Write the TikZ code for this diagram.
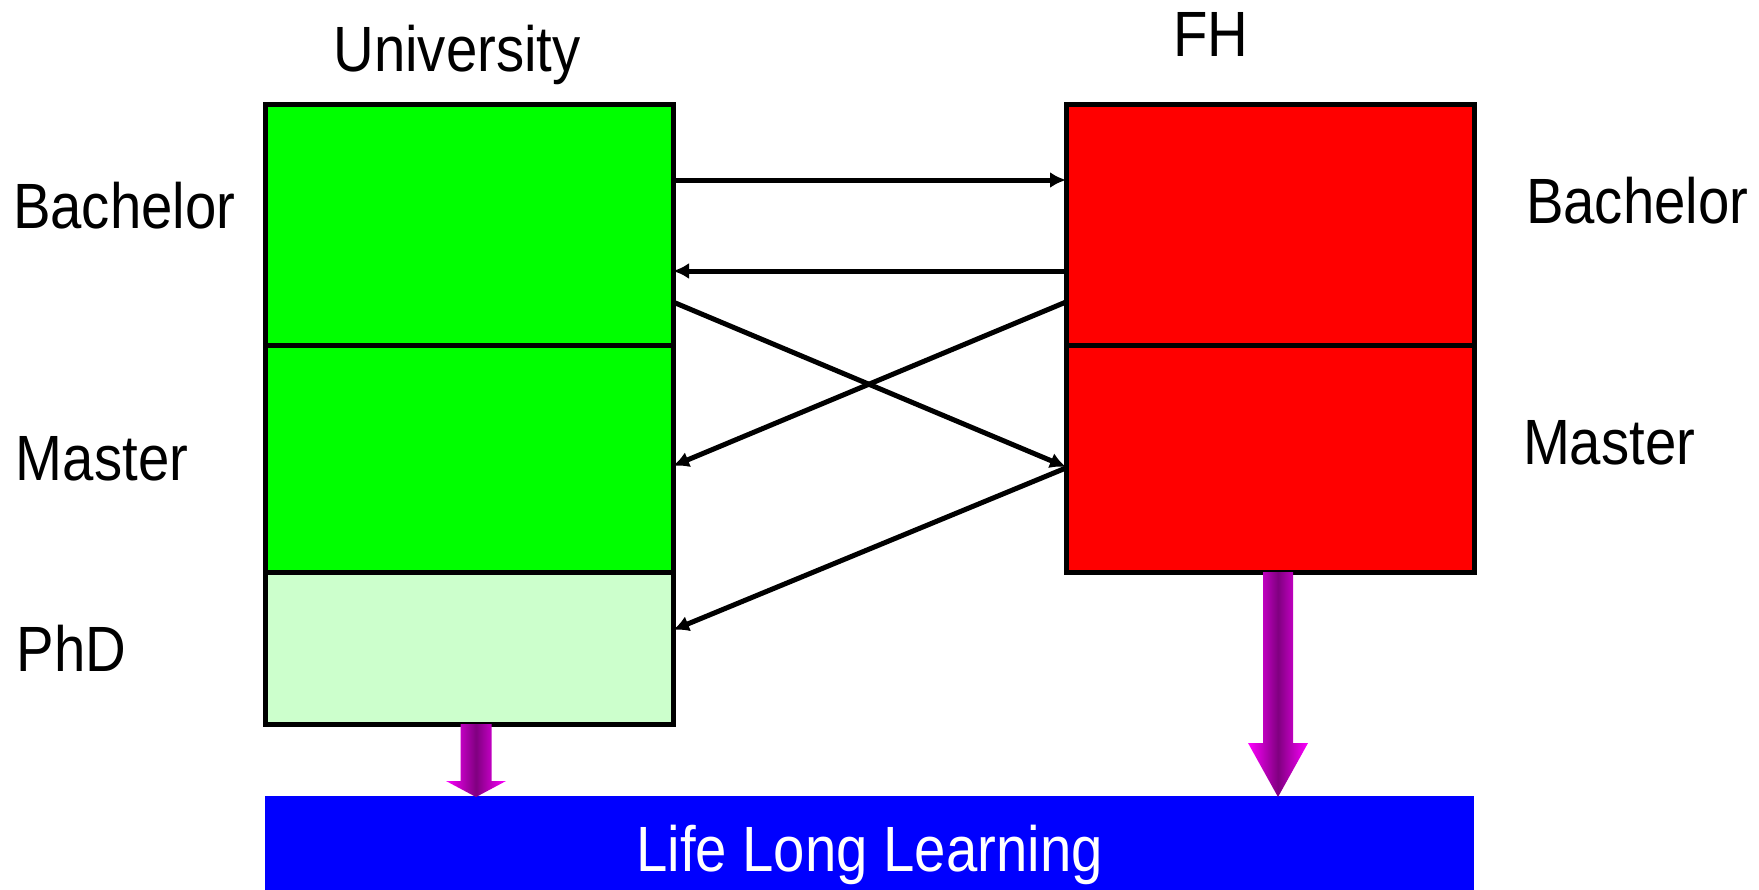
\documentclass[tikz,border=0pt]{standalone}
\usepackage{fontspec}
\setmainfont{Liberation Sans}[FakeStretch=0.88]
\usetikzlibrary{arrows.meta}

\definecolor{unigreen}{RGB}{0,255,0}
\definecolor{phdgreen}{RGB}{204,255,204}
\definecolor{fhred}{RGB}{255,0,0}
\definecolor{lllblue}{RGB}{0,0,255}
\definecolor{liftedge}{RGB}{255,0,255}
\definecolor{liftmid}{RGB}{128,0,128}

\begin{document}
\begin{tikzpicture}[x=0.5pt,y=-0.5pt]
              \tikzstyle{every node}+=[inner sep=0pt, outer sep=0pt, font=\fontsize{32}{36}\selectfont]
              \tikzstyle{level}=[draw=black, line width=2.5pt, minimum width=204pt]
              \tikzstyle{conn}=[black, line width=2.5pt, -{Latex[length=8pt,width=8pt]}]
              \tikzstyle{lift}=[left color=liftedge, right color=liftedge, middle color=liftmid]
              \useasboundingbox (0,0) rectangle (1759,889);

              % university column
              \node [level, fill=unigreen, minimum height=120.75pt] (ubach) at (469,225) {};
              \node [level, fill=unigreen, minimum height=113.25pt] (umast) at (469,458.75) {};
              \node [level, fill=phdgreen, minimum height=76pt] (uphd) at (469,648) {};
              % FH column
              \node [level, fill=fhred, minimum height=120.75pt] (fbach) at (1270,225) {};
              \node [level, fill=fhred, minimum height=113.25pt] (fmast) at (1270,458.75) {};
              % life long learning
              \node [fill=lllblue, text=white, text depth=0pt, minimum width=604.5pt, minimum height=52pt] (lll) at (869.5,848) {Life Long Learning};

              % labels
              \node [anchor=base] (tuni) at (457,71) {University};
              \node [anchor=base] (tfh) at (1211,56) {FH};
              \node [anchor=base west] (tubach) at (13,228) {Bachelor};
              \node [anchor=base west] (tumast) at (16,480) {Master};
              \node [anchor=base west] (tuphd) at (17,671) {PhD};
              \node [anchor=base west] (tfbach) at (1526,223) {Bachelor};
              \node [anchor=base west] (tfmast) at (1523,464) {Master};

              % transfers
              \draw [conn] ([yshift=22.5pt]ubach.east) -- ([yshift=22.5pt]fbach.west);
              \draw [conn] ([yshift=-23pt]fbach.west) -- ([yshift=-23pt]ubach.east);
              \draw [conn] ([yshift=-38.5pt]ubach.east) -- ([yshift=-4.1pt]fmast.west);
              \draw [conn] ([yshift=-38.5pt]fbach.west) -- ([yshift=-3.6pt]umast.east);
              \draw [conn] ([yshift=-4.6pt]fmast.west) -- ([yshift=9pt]uphd.east);

              % into life long learning
              \shade [lift] ([xshift=-4.25pt]uphd.south) -- ++(0,-28.5pt) -- ++(-7.25pt,0)
                -- ++(15pt,-8pt) -- ++(15pt,8pt) -- ++(-7.25pt,0) -- ++(0,28.5pt) -- cycle;
              \shade [lift] ([xshift=-3.5pt]fmast.south) -- ++(0,-85.5pt) -- ++(-7.5pt,0)
                -- ++(15pt,-27pt) -- ++(15pt,27pt) -- ++(-7.5pt,0) -- ++(0,85.5pt) -- cycle;
            \end{tikzpicture}
\end{document}
